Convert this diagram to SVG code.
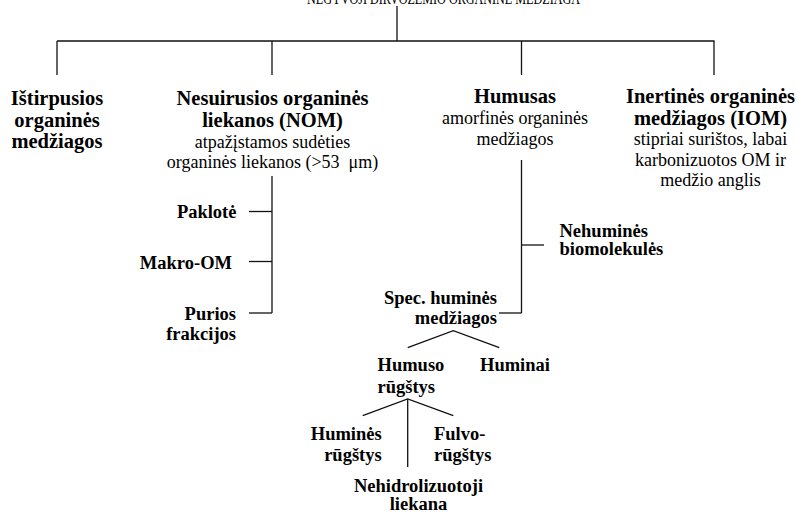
<svg xmlns="http://www.w3.org/2000/svg" width="799" height="514" viewBox="0 0 799 514" font-family="'Liberation Serif', 'Times New Roman', 'DejaVu Serif', serif">
<style>
text{font-family:'Liberation Serif','Times New Roman','DejaVu Serif',serif;fill:#000}
.h{font-weight:bold;font-size:20.5px;text-anchor:middle}
.r{font-size:18px;text-anchor:middle}
.s{font-weight:bold;font-size:18.5px}
.e{text-anchor:end}
.m{text-anchor:middle}
.t{font-size:16px}
#conn line,#conn polyline{stroke:#111;stroke-width:1.3;fill:none}
</style>
<rect width="799" height="514" fill="#fff"/>
<g id="title"><text class="t" x="307" y="4" textLength="273" lengthAdjust="spacingAndGlyphs">NEGYVOJI DIRVOŽEMIO ORGANINĖ MEDŽIAGA</text></g>
<g id="conn">
<line x1="397" y1="6" x2="397" y2="41"/>
<line x1="57" y1="41" x2="714.5" y2="41"/>
<line x1="57" y1="41" x2="57" y2="75"/>
<line x1="272" y1="41" x2="272" y2="75"/>
<line x1="521.5" y1="41" x2="521.5" y2="75"/>
<line x1="714" y1="41" x2="714" y2="75"/>
<line x1="272" y1="176" x2="272" y2="313"/>
<line x1="249" y1="211.5" x2="272" y2="211.5"/>
<line x1="249" y1="261.5" x2="272" y2="261.5"/>
<line x1="249" y1="313" x2="272" y2="313"/>
<line x1="521.5" y1="160" x2="521.5" y2="313"/>
<line x1="521.5" y1="245" x2="544" y2="245"/>
<line x1="499" y1="313" x2="521.5" y2="313"/>
<polyline points="407.7,347.7 453.3,330.7 499.3,347.7"/>
<polyline points="362.7,415.7 407.7,399 453.3,415.7"/>
<line x1="407.7" y1="399" x2="407.7" y2="467"/>
</g>
<g id="istirpusios"><text class="h" x="57" y="105">Ištirpusios</text><text class="h" x="57" y="127">organinės</text><text class="h" x="57" y="148">medžiagos</text></g>
<g id="nom"><text class="h" x="272.5" y="105">Nesuirusios organinės</text><text class="h" x="272.5" y="127">liekanos (NOM)</text><text class="r" x="272.5" y="147.5">atpažįstamos sudėties</text><text class="r" x="272.5" y="168">organinės liekanos (&gt;53&#160; μm)</text></g>
<g id="humusas"><text class="h" x="515" y="103">Humusas</text><text class="r" x="515" y="124">amorfinės organinės</text><text class="r" x="515" y="144.5">medžiagos</text></g>
<g id="iom"><text class="h" x="710.5" y="103">Inertinės organinės</text><text class="h" x="710.5" y="124.5">medžiagos (IOM)</text><text class="r" x="710.5" y="145">stipriai surištos, labai</text><text class="r" x="710.5" y="165.5">karbonizuotos OM ir</text><text class="r" x="710.5" y="186">medžio anglis</text></g>
<g id="paklote"><text class="s e" x="236.5" y="218">Paklotė</text></g>
<g id="makro"><text class="s e" x="232" y="269">Makro-OM</text></g>
<g id="purios"><text class="s e" x="236" y="320">Purios</text><text class="s e" x="236" y="339.5">frakcijos</text></g>
<g id="nehumines"><text class="s" x="559.5" y="236.5">Nehuminės</text><text class="s" x="559.5" y="255">biomolekulės</text></g>
<g id="spec"><text class="s e" x="497" y="304">Spec. huminės</text><text class="s e" x="497" y="324">medžiagos</text></g>
<g id="humuso"><text class="s" x="377.5" y="371">Humuso</text><text class="s" x="377.5" y="392.5">rūgštys</text></g>
<g id="huminai"><text class="s" x="480" y="371">Huminai</text></g>
<g id="humines"><text class="s e" x="381.7" y="440">Huminės</text><text class="s e" x="381.7" y="461">rūgštys</text></g>
<g id="fulvo"><text class="s" x="434" y="440">Fulvo-</text><text class="s" x="434" y="461">rūgštys</text></g>
<g id="nehidro"><text class="s m" x="418.5" y="491.5">Nehidrolizuotoji</text><text class="s m" x="418.5" y="510">liekana</text></g>
</svg>
